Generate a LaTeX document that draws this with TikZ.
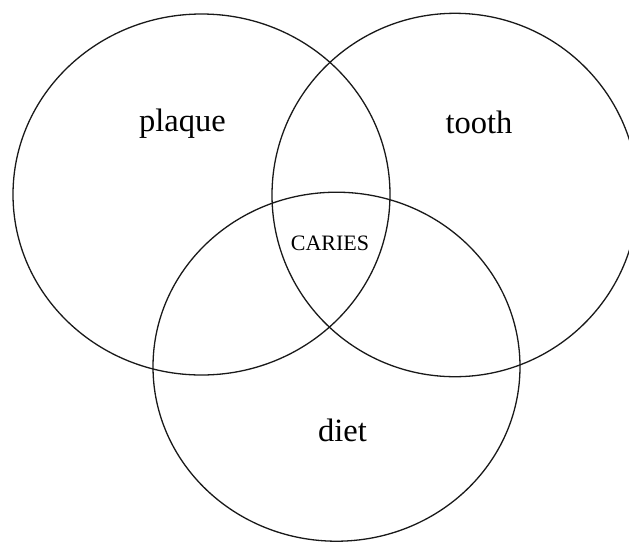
\documentclass[tikz,border=0pt]{standalone}
\usepackage{fontspec}
\setmainfont{Liberation Serif}
\begin{document}
\begin{tikzpicture}[x=1pt,y=-1pt,
  setline/.style={draw=black!90, line width=1.3pt},
  biglabel/.style={font=\fontsize{32.5}{36}\selectfont, text=black, inner sep=0pt},
  smalllabel/.style={font=\fontsize{22}{26}\selectfont, text=black, inner sep=0pt}]
\useasboundingbox (0,0) rectangle (629,542);
\clip (0,0) rectangle (629,542);
% sets
\draw[setline] (201.5,194.5) ellipse [x radius=188.5pt, y radius=180.5pt];
\draw[setline] (455,195) ellipse [x radius=183pt, y radius=181.7pt];
\draw[setline] (336.5,366.7) ellipse [x radius=183.5pt, y radius=174.5pt];
% labels
\node[biglabel] (plaque) at (182.5,124) {plaque};
\node[biglabel] (tooth) at (479,122.5) {tooth};
\node[biglabel] (diet) at (342.5,430) {diet};
\node[smalllabel] (caries) at (330,243) {CARIES};
\end{tikzpicture}
\end{document}
